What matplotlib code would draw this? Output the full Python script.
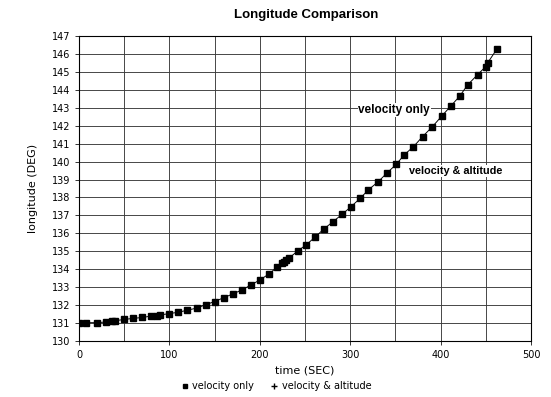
import matplotlib
matplotlib.use('Agg')
import matplotlib.pyplot as plt
from matplotlib.lines import Line2D
import numpy as np

# values (time in sec, longitude in deg)
time_vel = [0, 8, 20, 30, 37, 40, 50, 60, 70, 80, 86, 90, 100, 110, 120, 130, 140, 150,
            160, 170, 180, 190, 200, 210, 219, 224, 227, 229, 232, 242, 251, 261, 271,
            281, 291, 301, 311, 320, 331, 341, 351, 360, 370, 380, 391, 401, 411, 421,
            430, 441, 450, 452, 462]
lon_vel = [130.99, 131.02, 131.02, 131.06, 131.11, 131.13, 131.20, 131.26, 131.31, 131.39,
           131.42, 131.45, 131.53, 131.60, 131.72, 131.83, 132.02, 132.20, 132.41, 132.62,
           132.84, 133.12, 133.40, 133.73, 134.11, 134.33, 134.42, 134.52, 134.61, 135.02,
           135.35, 135.78, 136.25, 136.65, 137.06, 137.49, 137.95, 138.42, 138.88, 139.38,
           139.85, 140.39, 140.83, 141.39, 141.95, 142.52, 143.08, 143.64, 144.28, 144.85,
           145.30, 145.50, 146.25]
# velocity & altitude curve lies on top of the velocity-only one
time_alt = list(time_vel)
lon_alt = list(lon_vel)

xticks = [0, 100, 200, 300, 400, 500]
yticks = list(range(130, 148))

plt.rcParams['font.family'] = ['Liberation Sans', 'DejaVu Sans']

fig = plt.figure(figsize=(5.51, 3.97), dpi=100)
ax = fig.add_axes([0.1434, 0.1411, 0.8203, 0.7682])

ax.plot(time_alt, lon_alt, color='black', lw=0.7, marker='+', ms=3, zorder=3)
ax.plot(time_vel, lon_vel, color='black', ls='none', marker='s', ms=3.8, zorder=4)

ax.set_xlim(0, 500)
ax.set_ylim(130, 147)
ax.set_xticks(xticks)
ax.set_xticks(np.arange(0, 501, 50), minor=True)
ax.set_yticks(yticks)
ax.grid(True, which='both', color='#3a3a3a', lw=0.65)
ax.tick_params(axis='both', which='both', direction='out', length=3, width=0.7,
               labelsize=7, color='#333333')
ax.tick_params(axis='x', which='minor', length=0)
for s in ax.spines.values():
    s.set_linewidth(0.8)

ax.set_xlabel('time (SEC)', fontsize=8, family='DejaVu Sans', labelpad=4)
ax.set_ylabel('longitude (DEG)', fontsize=8, family='DejaVu Sans', labelpad=10)
for lab in ax.get_xticklabels() + ax.get_yticklabels():
    lab.set_family('DejaVu Sans')

fig.suptitle('Longitude Comparison', fontsize=9.5, fontweight='bold', x=0.555, y=0.978)

ax.text(309, 142.88, 'velocity only', fontsize=8.5, fontweight='bold', va='center',
        ha='left', zorder=5, bbox=dict(facecolor='white', edgecolor='none', pad=0.5))
ax.text(365, 139.47, 'velocity & altitude', fontsize=7.8, fontweight='bold', va='center',
        ha='left', zorder=5, bbox=dict(facecolor='white', edgecolor='none', pad=0.5))

handles = [Line2D([], [], color='black', ls='none', marker='s', ms=3.5),
           Line2D([], [], color='black', ls='none', marker='+', ms=4)]
fig.legend(handles, ['velocity only', 'velocity & altitude'], loc='lower center',
           bbox_to_anchor=(0.5, -0.008), ncol=2, frameon=False,
           prop={'family': 'DejaVu Sans', 'size': 7}, handletextpad=0.3,
           columnspacing=1.5, handlelength=1.0)

fig.savefig('out.png', dpi=100)
